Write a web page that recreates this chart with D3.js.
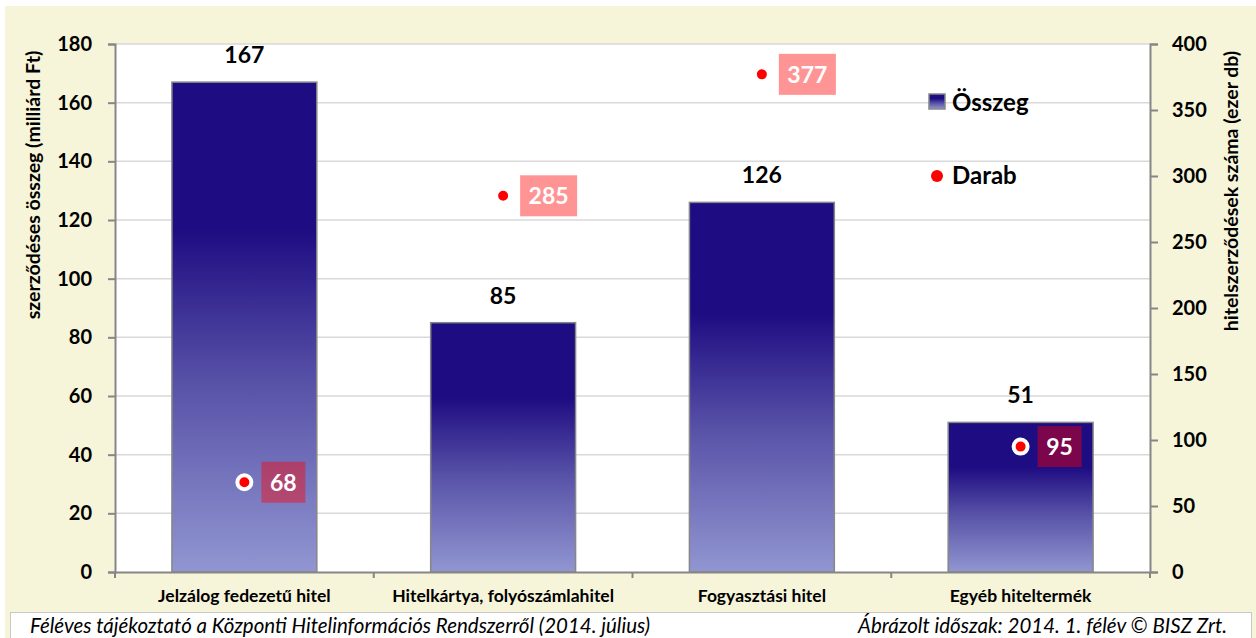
<!DOCTYPE html>
<html>
<head>
<meta charset="utf-8">
<script src="https://cdn.jsdelivr.net/npm/d3@7"></script>
<style>
  body { margin: 0; background: #ffffff; }
  text { font-family: Lato, "Open Sans", sans-serif; }
</style>
</head>
<body>
<div id="chart"></div>
<script>
// chart values
var categories = ["Jelzálog fedezetű hitel", "Hitelkártya, folyószámlahitel", "Fogyasztási hitel", "Egyéb hiteltermék"];
var osszeg = [167, 85, 126, 51];        // milliárd Ft (left axis)
var darab = [68, 285, 377, 95];         // ezer db (right axis)
var leftTicks = [0, 20, 40, 60, 80, 100, 120, 140, 160, 180];
var rightTicks = [0, 50, 100, 150, 200, 250, 300, 350, 400];
var legendLabels = ["Összeg", "Darab"];
var leftTitle = "szerződéses összeg (milliárd Ft)";
var rightTitle = "hitelszerződések száma (ezer db)";
var footLeft = "Féléves tájékoztató a Központi Hitelinformációs Rendszerről (2014. július)";
var footRight = "Ábrázolt időszak: 2014. 1. félév © BISZ Zrt.";

var svgWidth = 1256, svgHeight = 638;
var plot = { left: 115, right: 1150, top: 44, bottom: 572 };

var svg = d3.select("#chart").append("svg")
  .attr("width", svgWidth)
  .attr("height", svgHeight);

// background panel
svg.append("rect").attr("x", 5).attr("y", 6).attr("width", svgWidth - 5).attr("height", svgHeight - 6)
  .attr("fill", "#f6f4d9");
svg.append("rect").attr("x", plot.left).attr("y", plot.top)
  .attr("width", plot.right - plot.left).attr("height", plot.bottom - plot.top)
  .attr("fill", "#ffffff");

// gradient for bars
var defs = svg.append("defs");
var grad = defs.append("linearGradient").attr("id", "barGrad")
  .attr("x1", 0).attr("y1", 0).attr("x2", 0).attr("y2", 1);
grad.append("stop").attr("offset", "0").attr("stop-color", "#1e0c82");
grad.append("stop").attr("offset", "0.3").attr("stop-color", "#1e0c82");
grad.append("stop").attr("offset", "0.62").attr("stop-color", "#5953a8");
grad.append("stop").attr("offset", "1").attr("stop-color", "#9196d1");

// scales
var x = d3.scaleBand().domain(categories)
  .range([plot.left, plot.right])
  .paddingInner(0.44).paddingOuter(0.22);
var yLeft = d3.scaleLinear().domain([0, 180]).range([plot.bottom, plot.top]);
var yRight = d3.scaleLinear().domain([0, 400]).range([plot.bottom, plot.top]);

// gridlines
svg.append("g").selectAll("line")
  .data(leftTicks.filter(d => d > 0))
  .enter().append("line")
  .attr("x1", plot.left).attr("x2", plot.right)
  .attr("y1", d => yLeft(d)).attr("y2", d => yLeft(d))
  .attr("stroke", "#d9d9d9").attr("stroke-width", 1.5);

// bars
var barsGroup = svg.append("g");
barsGroup.selectAll("rect")
  .data(osszeg)
  .enter().append("rect")
  .attr("x", (d, i) => x(categories[i]))
  .attr("y", d => yLeft(d))
  .attr("width", x.bandwidth())
  .attr("height", d => plot.bottom - yLeft(d))
  .attr("fill", "url(#barGrad)")
  .attr("stroke", "#878787").attr("stroke-width", 1.5);

barsGroup.selectAll(".barLabel")
  .data(osszeg)
  .enter().append("text")
  .attr("class", "barLabel")
  .attr("x", (d, i) => x(categories[i]) + x.bandwidth() / 2)
  .attr("y", d => yLeft(d) - 19)
  .attr("text-anchor", "middle")
  .attr("font-size", 23).attr("font-weight", "bold")
  .attr("fill", "#000")
  .text(d => d);

// axes
var leftAxis = d3.axisLeft(yLeft).tickValues(leftTicks).tickSize(7).tickPadding(16);
var rightAxis = d3.axisRight(yRight).tickValues(rightTicks).tickSize(8).tickPadding(14);
var bottomAxis = d3.axisBottom(x).tickSize(0).tickPadding(18);

var gl = svg.append("g").attr("transform", `translate(${plot.left},0)`).call(leftAxis);
var gr = svg.append("g").attr("transform", `translate(${plot.right},0)`).call(rightAxis);
var gb = svg.append("g").attr("transform", `translate(0,${plot.bottom})`).call(bottomAxis);

[gl, gr, gb].forEach(function(g) {
  g.select(".domain").attr("stroke", "#868686").attr("stroke-width", 2);
  g.selectAll(".tick line").attr("stroke", "#868686").attr("stroke-width", 2);
  g.selectAll("text").attr("font-family", "Lato, sans-serif").attr("font-weight", "bold").attr("fill", "#000");
});
gl.selectAll("text").attr("font-size", 20);
gr.selectAll("text").attr("font-size", 20);
gb.selectAll("text").attr("font-size", 17.5);

// category boundary ticks on the x axis
svg.append("g").selectAll("line")
  .data(d3.range(categories.length + 1))
  .enter().append("line")
  .attr("x1", i => plot.left + i * x.step()).attr("x2", i => plot.left + i * x.step())
  .attr("y1", plot.bottom).attr("y2", plot.bottom + 6)
  .attr("stroke", "#868686").attr("stroke-width", 2);

// darab points with labels
var pts = svg.append("g");
pts.selectAll("circle")
  .data(darab)
  .enter().append("circle")
  .attr("cx", (d, i) => x(categories[i]) + x.bandwidth() / 2)
  .attr("cy", d => yRight(d))
  .attr("r", 7)
  .attr("fill", "#ff0000")
  .attr("stroke", "#ffffff").attr("stroke-width", 4);

var lbl = pts.selectAll(".ptLabel")
  .data(darab)
  .enter().append("g")
  .attr("class", "ptLabel")
  .attr("transform", (d, i) => `translate(${x(categories[i]) + x.bandwidth() / 2 + 17},${yRight(d)})`);
lbl.append("rect")
  .attr("x", 0).attr("y", -20.5)
  .attr("width", d => String(d).length > 2 ? 57 : 44)
  .attr("height", 41)
  .attr("fill", "#ff0000").attr("fill-opacity", 0.42);
lbl.append("text")
  .attr("x", d => (String(d).length > 2 ? 57 : 44) / 2)
  .attr("y", 8.5)
  .attr("text-anchor", "middle")
  .attr("font-size", 23).attr("font-weight", "bold")
  .attr("fill", "#ffffff")
  .text(d => d);

// legend
var legend = svg.append("g");
legend.append("rect").attr("x", 929).attr("y", 94).attr("width", 16).attr("height", 15)
  .attr("fill", "url(#barGrad)").attr("stroke", "#878787").attr("stroke-width", 1.5);
legend.append("circle").attr("cx", 937).attr("cy", 176).attr("r", 6).attr("fill", "#ff0000");
legend.selectAll("text")
  .data(legendLabels)
  .enter().append("text")
  .attr("x", 952)
  .attr("y", (d, i) => 111 + i * 73)
  .attr("font-size", 24).attr("font-weight", "bold")
  .attr("fill", "#000")
  .text(d => d);

// axis titles
svg.append("text")
  .attr("transform", "translate(40,185) rotate(-90)")
  .attr("text-anchor", "middle")
  .attr("font-size", 19.5).attr("font-weight", "bold")
  .text(leftTitle);
svg.append("text")
  .attr("transform", "translate(1238,191) rotate(-90)")
  .attr("text-anchor", "middle")
  .attr("font-size", 19.5).attr("font-weight", "bold")
  .text(rightTitle);

// footer
svg.append("rect").attr("x", 10.5).attr("y", 612.5).attr("width", 1241).attr("height", 30)
  .attr("fill", "#ffffff").attr("stroke", "#c8c8c8").attr("stroke-width", 1);
svg.append("text").attr("x", 30).attr("y", 633)
  .attr("font-size", 20.5).attr("font-style", "italic")
  .text(footLeft);
svg.append("text").attr("x", 1227).attr("y", 633)
  .attr("text-anchor", "end")
  .attr("font-size", 20.5).attr("font-style", "italic")
  .text(footRight);
</script>
</body>
</html>
